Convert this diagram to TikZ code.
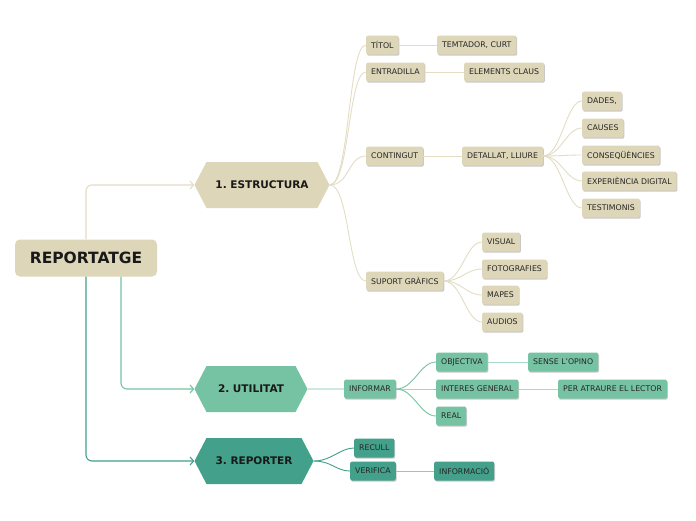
\documentclass[tikz,border=0pt]{standalone}
\usepackage{fontspec}
\setmainfont{DejaVu Sans}
\usetikzlibrary{arrows.meta,shapes.symbols,shadows}
\definecolor{beige}{HTML}{DDD6B8}
\definecolor{beigeln}{HTML}{E3DDC5}
\definecolor{verd}{HTML}{76C3A3}
\definecolor{verdln}{HTML}{A8DAC5}
\definecolor{verdfosc}{HTML}{43A08A}
\definecolor{verdfoscln}{HTML}{8CCAB9}
\frenchspacing
\begin{document}
\begin{tikzpicture}[x=1pt,y=-1pt,font=\fontsize{7.8}{9}\selectfont,
  bx/.style={fill=#1,rounded corners=2pt,minimum height=19pt,inner xsep=5pt,inner ysep=2pt,text=black!85,anchor=west,
    drop shadow={shadow xshift=0.8pt,shadow yshift=-1.2pt,opacity=0.22,fill=black}},
  hx/.style={signal,signal to=east and west,signal pointer angle=125,fill=#1,minimum height=46pt,inner xsep=2pt,
    text=black!90,font=\bfseries\fontsize{10.5}{12}\selectfont},
  ln/.style={draw=#1,line width=0.9pt},
  arr/.style={draw=#1,-{Straight Barb[length=3.5pt,width=8pt]},line width=1.1pt,rounded corners=6pt}]
  \useasboundingbox[fill=white](0,0) rectangle (696,520);
  % arrel i branques principals
  \node[fill=beige,rounded corners=5pt,minimum width=142pt,minimum height=37pt,text=black!90,
    font=\bfseries\fontsize{15.5}{17}\selectfont](rep) at (86,258){REPORTATGE};
  \node[hx=beige,minimum width=135pt](estr) at (262,185){1. ESTRUCTURA};
  \node[hx=verd,minimum width=113pt](util) at (251,389){2. UTILITAT};
  \node[hx=verdfosc,minimum width=119pt](repr) at (254,461){3. REPORTER};
  \draw[arr=beigeln](rep.north)|-(estr.west);
  \draw[arr=verd]([xshift=35pt]rep.south)|-(util.west);
  \draw[arr=verdfosc](rep.south)|-(repr.west);
  % estructura
  \node[bx=beige](titol) at (366,45){TÍTOL};
  \node[bx=beige](temt) at (437,45){TEMTADOR, CURT};
  \node[bx=beige](entra) at (366,72){ENTRADILLA};
  \node[bx=beige](elem) at (464,72){ELEMENTS CLAUS};
  \node[bx=beige](cont) at (366,156){CONTINGUT};
  \node[bx=beige](detall) at (462,156){DETALLAT, LLIURE};
  \node[bx=beige](dades) at (582,101){DADES,};
  \node[bx=beige](causes) at (582,128){CAUSES};
  \node[bx=beige](conseq) at (582,155){CONSEQÜÈNCIES};
  \node[bx=beige](exper) at (582,181){EXPERIÈNCIA DIGITAL};
  \node[bx=beige](testim) at (582,208){TESTIMONIS};
  \node[bx=beige](suport) at (366,281){SUPORT GRÀFICS};
  \node[bx=beige](visual) at (482,242){VISUAL};
  \node[bx=beige](foto) at (482,269){FOTOGRAFIES};
  \node[bx=beige](mapes) at (482,295){MAPES};
  \node[bx=beige](audios) at (482,322){AUDIOS};
  \foreach \n in {titol,entra,cont,suport}
    \draw[ln=beigeln](estr.east) .. controls +(20,0) and +(-18,0) .. (\n.west);
  \draw[ln=beigeln](titol)--(temt);\draw[ln=beigeln](entra)--(elem);\draw[ln=beigeln](cont)--(detall);
  \foreach \n in {dades,causes,conseq,exper,testim}
    \draw[ln=beigeln](detall.east) .. controls +(18,0) and +(-16,0) .. (\n.west);
  \foreach \n in {visual,foto,mapes,audios}
    \draw[ln=beigeln](suport.east) .. controls +(18,0) and +(-16,0) .. (\n.west);
  % utilitat
  \node[bx=verd](inform) at (344,389){INFORMAR};
  \node[bx=verd](obj) at (436,362){OBJECTIVA};
  \node[bx=verd](sense) at (528,362){SENSE L{\char"27}OPINO};
  \node[bx=verd](inter) at (436,389){INTERES GENERAL};
  \node[bx=verd](atra) at (558,389){PER ATRAURE EL LECTOR};
  \node[bx=verd](real) at (436,416){REAL};
  \draw[ln=verd](util)--(inform);
  \foreach \n in {obj,inter,real}
    \draw[ln=verd](inform.east) .. controls +(18,0) and +(-16,0) .. (\n.west);
  \draw[ln=verdln](obj)--(sense);\draw[ln=verdln](inter)--(atra);
  % reporter
  \node[bx=verdfosc](recull) at (354,448){RECULL};
  \node[bx=verdfosc](verif) at (350,471){VERIFICA};
  \node[bx=verdfosc](infoc) at (434,471){INFORMACIÓ};
  \foreach \n in {recull,verif}
    \draw[ln=verdfosc](repr.east) .. controls +(18,0) and +(-14,0) .. (\n.west);
  \draw[ln=verdfoscln](verif)--(infoc);
\end{tikzpicture}
\end{document}
